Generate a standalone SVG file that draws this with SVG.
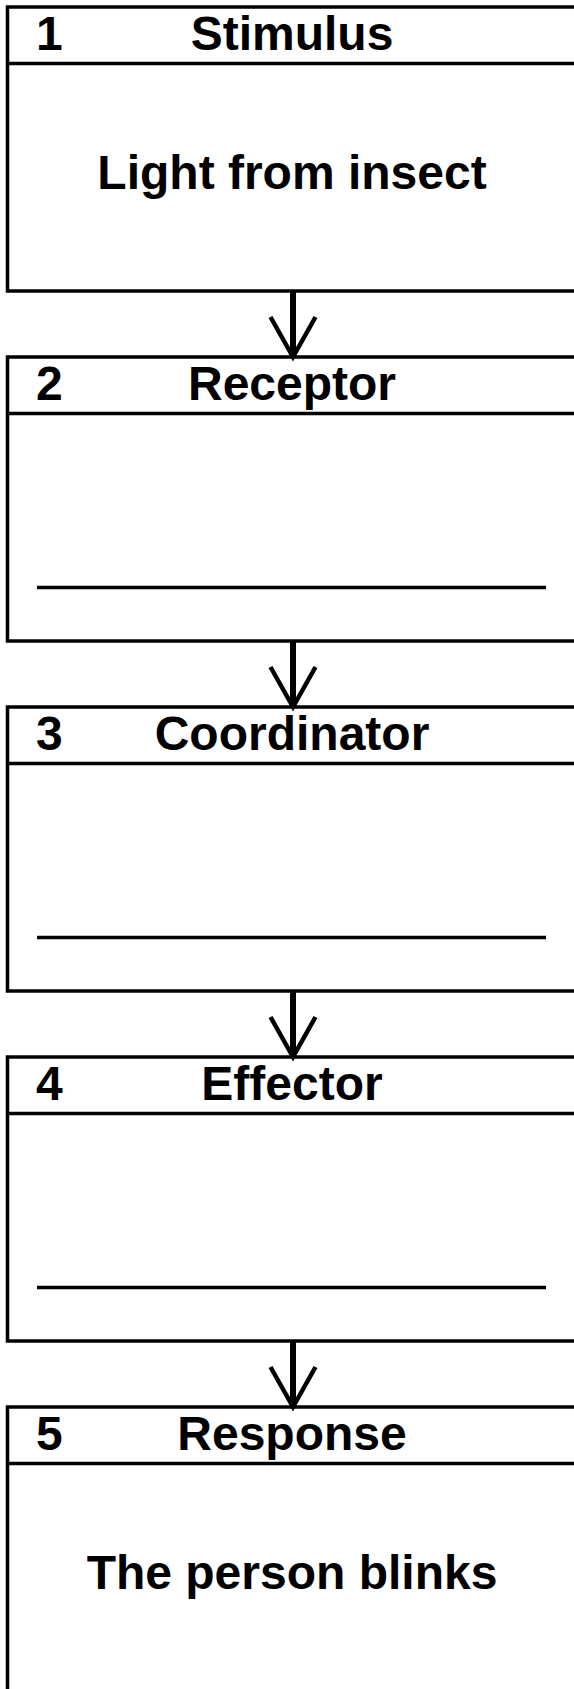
<svg xmlns="http://www.w3.org/2000/svg" width="574" height="1689" viewBox="0 0 574 1689">
<style>
.box{fill:#fff;stroke:#000;stroke-width:3.5}
.div{stroke:#000;stroke-width:3.5}
.blank{stroke:#000;stroke-width:3.5}
.num{font-family:"Liberation Sans",Arial,sans-serif;font-weight:bold;font-size:48px;fill:#000}
.head{font-family:"Liberation Sans",Arial,sans-serif;font-weight:bold;font-size:48px;fill:#000;text-anchor:middle}
.body{font-family:"Liberation Sans",Arial,sans-serif;font-weight:bold;font-size:48px;fill:#000;text-anchor:middle}
.shaft{stroke:#000;stroke-width:6;fill:none}
</style>
<defs>
<marker id="ah" markerUnits="userSpaceOnUse" viewBox="-45 -30 50 60" refX="0" refY="0" markerWidth="50" markerHeight="60" orient="auto" overflow="visible">
<path d="M-40,-22.5 L0,0 L-40,22.5" fill="none" stroke="#000" stroke-width="4.5" stroke-linejoin="miter"/>
</marker>
</defs>
<g id="node1">
<rect class="box" x="7.5" y="7" width="580" height="284"/>
<line class="div" x1="7.5" y1="63.5" x2="580" y2="63.5"/>
<text class="num" x="36" y="50">1</text>
<text class="head" x="292" y="50">Stimulus</text>
<text class="body" x="292" y="189">Light from insect</text>
</g>
<g id="node2">
<rect class="box" x="7.5" y="357" width="580" height="284"/>
<line class="div" x1="7.5" y1="413.5" x2="580" y2="413.5"/>
<text class="num" x="36" y="400">2</text>
<text class="head" x="292" y="400">Receptor</text>
<line class="blank" x1="37" y1="587.5" x2="546" y2="587.5"/>
</g>
<g id="node3">
<rect class="box" x="7.5" y="707" width="580" height="284"/>
<line class="div" x1="7.5" y1="763.5" x2="580" y2="763.5"/>
<text class="num" x="36" y="750">3</text>
<text class="head" x="292" y="750">Coordinator</text>
<line class="blank" x1="37" y1="937.5" x2="546" y2="937.5"/>
</g>
<g id="node4">
<rect class="box" x="7.5" y="1057" width="580" height="284"/>
<line class="div" x1="7.5" y1="1113.5" x2="580" y2="1113.5"/>
<text class="num" x="36" y="1100">4</text>
<text class="head" x="292" y="1100">Effector</text>
<line class="blank" x1="37" y1="1287.5" x2="546" y2="1287.5"/>
</g>
<g id="node5">
<rect class="box" x="7.5" y="1407" width="580" height="284"/>
<line class="div" x1="7.5" y1="1463.5" x2="580" y2="1463.5"/>
<text class="num" x="36" y="1450">5</text>
<text class="head" x="292" y="1450">Response</text>
<text class="body" x="292" y="1589">The person blinks</text>
</g>
<g id="connectors">
<line class="shaft" x1="293" y1="291" x2="293" y2="357" marker-end="url(#ah)"/>
<line class="shaft" x1="293" y1="641" x2="293" y2="707" marker-end="url(#ah)"/>
<line class="shaft" x1="293" y1="991" x2="293" y2="1057" marker-end="url(#ah)"/>
<line class="shaft" x1="293" y1="1341" x2="293" y2="1407" marker-end="url(#ah)"/>
</g>
</svg>
